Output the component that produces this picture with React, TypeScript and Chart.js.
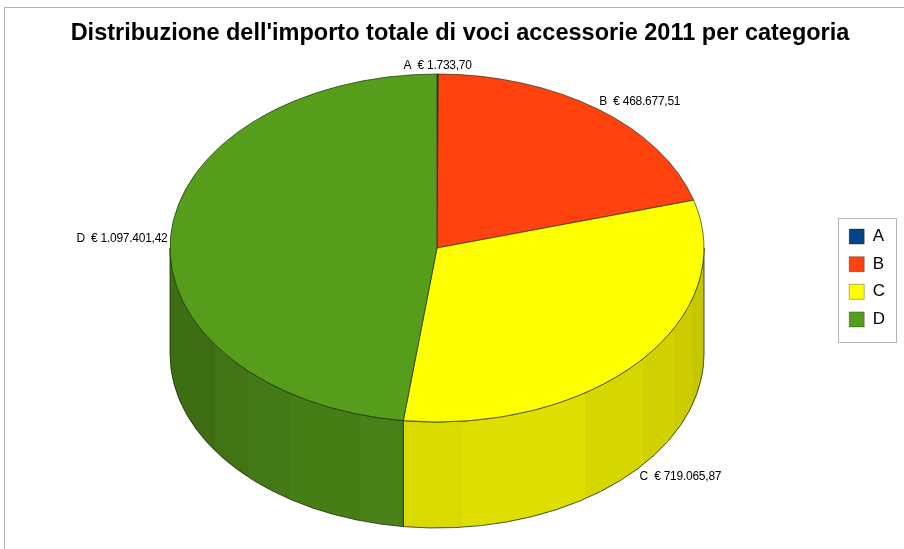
import React, { useEffect, useRef } from "react";
import { Chart, registerables } from "chart.js";

Chart.register(...registerables);

const categories = ["A", "B", "C", "D"];
const amounts = [1733.7, 468677.51, 719065.87, 1097401.42];
const sliceColors = ["#004586", "#ff420e", "#ffff00", "#579d1c"];
const titleText = "Distribuzione dell'importo totale di voci accessorie 2011 per categoria";

// Page geometry of the tilted pie
const CX = 437;
const CY = 248;
const RX = 267;
const RY = 174;
const DEPTH = 106;
const FONT = '"Liberation Sans", Arial, sans-serif';

// Side-wall shading: hard vertical bands (right page edge of band, brightness)
const sideBands: [number, number][] = [
  [215, 0.7],
  [248, 0.74],
  [290, 0.77],
  [360, 0.8],
  [403, 0.82],
  [463, 0.855],
  [585, 0.87],
  [643, 0.84],
  [673, 0.82],
  [692, 0.8],
  [705, 0.78],
];

const euro = new Intl.NumberFormat("de-DE", { minimumFractionDigits: 2, maximumFractionDigits: 2 });

function rgb(hex: string): number[] {
  return [1, 3, 5].map((i) => parseInt(hex.slice(i, i + 2), 16));
}

const tiltPlugin = {
  id: "tilt",
  beforeDatasetsDraw(chart: any) {
    const { ctx } = chart;
    const arcs = chart.getDatasetMeta(0).data;
    const left = CX - RX;
    const w = RX * 2;
    ctx.save();
    arcs.forEach((arc: any, i: number) => {
      const a0 = Math.max(arc.startAngle, 0);
      const a1 = Math.min(arc.endAngle, Math.PI);
      if (a1 <= a0) return;
      const [r, g, b] = rgb(sliceColors[i]);
      const grad = ctx.createLinearGradient(left, 0, left + w, 0);
      let prev = 0;
      sideBands.forEach(([edge, f]) => {
        const stop = Math.min(1, Math.max(0, (edge - left) / w));
        const c = `rgb(${Math.round(r * f)},${Math.round(g * f)},${Math.round(b * f)})`;
        grad.addColorStop(prev, c);
        grad.addColorStop(stop, c);
        prev = stop;
      });
      ctx.beginPath();
      ctx.ellipse(CX, CY, RX, RY, 0, a0, a1, false);
      ctx.ellipse(CX, CY + DEPTH, RX, RY, 0, a1, a0, true);
      ctx.closePath();
      ctx.fillStyle = grad;
      ctx.fill();
      ctx.lineWidth = 0.8;
      ctx.strokeStyle = "#1c2a08";
      ctx.stroke();
    });
    ctx.restore();

    const first = arcs[0];
    ctx.save();
    ctx.translate(CX, CY);
    ctx.scale(1, RY / RX);
    ctx.translate(-first.x, -first.y);
  },
  afterDatasetsDraw(chart: any) {
    chart.ctx.restore();
  },
  afterDraw(chart: any) {
    const { ctx } = chart;
    const arcs = chart.getDatasetMeta(0).data;
    ctx.save();
    // Outer frame
    ctx.strokeStyle = "#b3b3b3";
    ctx.lineWidth = 1;
    ctx.strokeRect(4.5, 7.5, 1000, 1000);
    // Legend frame
    ctx.strokeRect(838.5, 218.5, 58, 124);

    // Slice labels
    ctx.fillStyle = "#000";
    ctx.font = `12px ${FONT}`;
    ctx.letterSpacing = "-0.25px";
    ctx.textBaseline = "middle";
    arcs.forEach((arc: any, i: number) => {
      const mid = (arc.startAngle + arc.endAngle) / 2;
      const px = CX + RX * Math.cos(mid);
      const py = CY + RY * Math.sin(mid);
      const text = `${categories[i]}  € ${euro.format(amounts[i])}`;
      if (i === 0) {
        ctx.textAlign = "center";
        ctx.fillText(text, px, py - 8);
      } else if (Math.sin(mid) > 0) {
        ctx.textAlign = "left";
        ctx.fillText(text, px, py + DEPTH + 9);
      } else if (Math.cos(mid) > 0) {
        ctx.textAlign = "left";
        ctx.fillText(text, px + 1, py - 8);
      } else {
        ctx.textAlign = "right";
        ctx.fillText(text, px - 3, py + 2);
      }
    });
    ctx.restore();
  },
};

export default function App() {
  const ref = useRef<HTMLCanvasElement | null>(null);
  useEffect(() => {
    const chart = new Chart(ref.current as HTMLCanvasElement, {
      type: "pie",
      data: {
        labels: categories,
        datasets: [
          {
            data: amounts,
            backgroundColor: sliceColors,
            borderColor: "#1c2a08",
            borderWidth: 0.8,
            radius: RX,
            clip: false,
          } as any,
        ],
      },
      options: {
        responsive: false,
        animation: false,
        layout: { padding: { left: 25, right: 9, top: 19, bottom: 12 } },
        plugins: {
          tooltip: { enabled: false },
          title: {
            display: true,
            text: titleText,
            color: "#000",
            font: { family: FONT, size: 23.5, weight: "bold" },
            padding: { top: 0, bottom: 0 },
          },
          legend: {
            position: "right",
            labels: {
              color: "#000",
              font: { family: FONT, size: 17 },
              boxWidth: 15,
              boxHeight: 15,
              padding: 10.6,
              generateLabels(c: any) {
                return (Chart as any).overrides.doughnut.plugins.legend.labels
                  .generateLabels(c)
                  .map((it: any) => ({ ...it, strokeStyle: "rgba(0,0,0,0.3)", lineWidth: 1 }));
              },
            },
          },
        },
      },
      plugins: [tiltPlugin],
    } as any);
    return () => chart.destroy();
  }, []);
  return (
    <canvas
      ref={ref}
      width={904}
      height={549}
      style={{ position: "fixed", left: 0, top: 0, display: "block", background: "#fff" }}
    />
  );
}
